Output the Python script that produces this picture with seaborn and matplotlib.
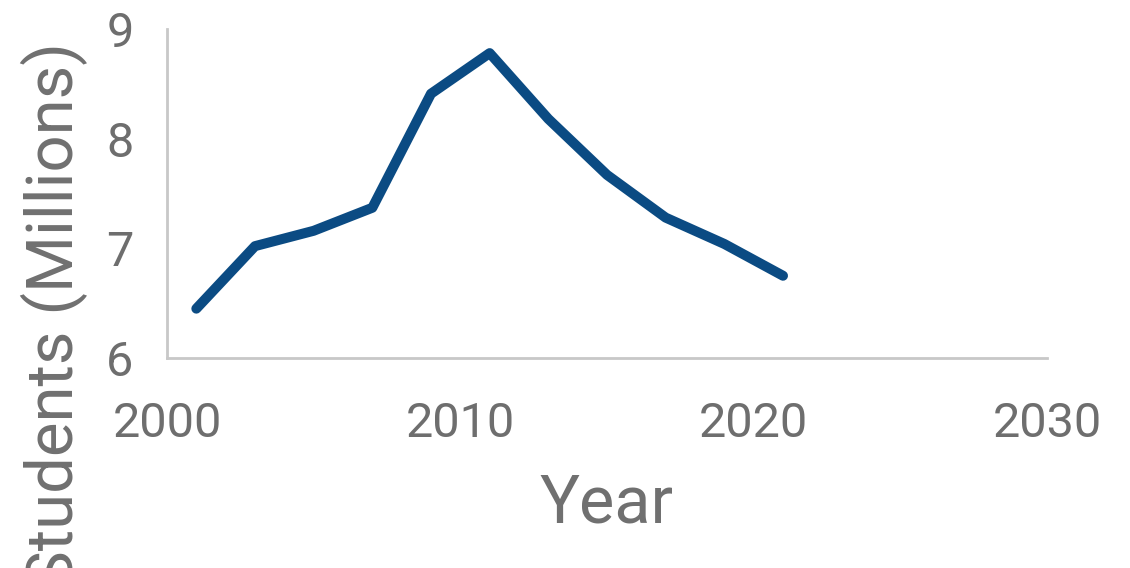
import matplotlib
matplotlib.use("Agg")
import matplotlib.pyplot as plt
import seaborn as sns
import pandas as pd

years = [2001, 2003, 2005, 2007, 2009, 2011, 2013, 2015, 2017, 2019, 2021]
students = [6.45, 7.02, 7.16, 7.37, 8.41, 8.78, 8.18, 7.67, 7.28, 7.04, 6.75]
x_ticks = [2000, 2010, 2020, 2030]
y_ticks = [6, 7, 8, 9]

sns.set_style("white")
plt.rcParams['font.family'] = ['Roboto', 'DejaVu Sans']

df = pd.DataFrame({"Year": years, "Students": students})

fig = plt.figure(figsize=(11.3, 5.68), dpi=100)
ax = fig.add_axes([167/1130, 1 - 358/568, (1047-167)/1130, (358-29)/568])

sns.lineplot(data=df, x="Year", y="Students", ax=ax, color="#0b4b83",
             linewidth=7.2, solid_capstyle="round", solid_joinstyle="round")

ax.set_xlim(2000, 2030)
ax.set_ylim(6, 9)
ax.set_xticks(x_ticks)
ax.set_yticks(y_ticks)
ax.tick_params(axis="both", length=0, labelsize=35, labelcolor="#6e6e6e")
ax.tick_params(axis="x", pad=31)
ax.tick_params(axis="y", pad=24)

for s in ["top", "right"]:
    ax.spines[s].set_visible(False)
for s in ["left", "bottom"]:
    ax.spines[s].set_color("#c8c8c8")
    ax.spines[s].set_linewidth(2)

ax.set_xlabel("Year", fontsize=48, color="#707070", labelpad=18)
ax.set_ylabel("")
fig.text(0.048, 1 - 42/568, "Students (Millions)", rotation=90, ha="center", va="top",
         fontsize=47, color="#707070")

fig.savefig("out.png", dpi=100)
